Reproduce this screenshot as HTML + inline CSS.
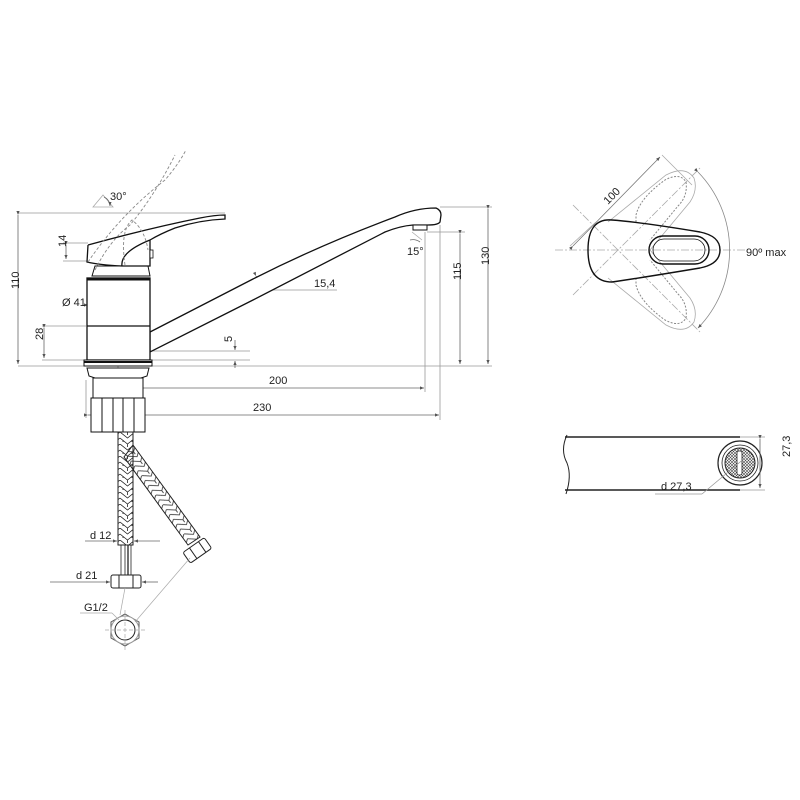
<!DOCTYPE html>
<html><head><meta charset="utf-8"><style>
html,body{margin:0;padding:0;background:#fff}
svg{display:block}
text{font-family:"Liberation Sans",sans-serif;font-size:11px;fill:#222}
</style></head><body>
<svg width="800" height="800" viewBox="0 0 800 800" xmlns="http://www.w3.org/2000/svg">
<defs>
<marker id="a" markerWidth="6" markerHeight="6" refX="5" refY="3" orient="auto"><path d="M0,1 L5,3 L0,5" fill="#555"/></marker>
<pattern id="h" width="3" height="3" patternUnits="userSpaceOnUse"><path d="M0,0 L3,3 M3,0 L0,3" stroke="#444" stroke-width="0.6"/></pattern>
<pattern id="br" width="15" height="12" patternUnits="userSpaceOnUse"><path d="M0,0 L7.5,6 L15,0 M0,6 L7.5,12 L15,6 M7.5,0 L7.5,3 M3,8 L3,10 M12,8 L12,10" stroke="#222" stroke-width="0.8" fill="none"/></pattern>
<pattern id="br2" width="15" height="12" patternUnits="userSpaceOnUse" patternTransform="rotate(-36)"><path d="M0,0 L7.5,6 L15,0 M0,6 L7.5,12 L15,6 M7.5,0 L7.5,3" stroke="#222" stroke-width="0.8" fill="none"/></pattern>
</defs>
<g stroke="#999" stroke-width="0.8" fill="none">
<line x1="18" y1="213" x2="225" y2="213"/>
<line x1="18" y1="366" x2="492" y2="366"/>
<line x1="440" y1="207" x2="492" y2="207"/>
<line x1="427" y1="232" x2="465" y2="232"/>
<line x1="425" y1="232" x2="425" y2="392"/>
<line x1="440" y1="225" x2="440" y2="420"/>
<line x1="42" y1="326" x2="86" y2="326"/>
<line x1="42" y1="360" x2="86" y2="360"/>
<line x1="150" y1="351" x2="250" y2="351"/>
<line x1="150" y1="360" x2="250" y2="360"/>
<line x1="63" y1="243" x2="88" y2="243"/>
<line x1="63" y1="261" x2="88" y2="261"/>
<line x1="262" y1="290" x2="337" y2="290"/>
<line x1="118" y1="360" x2="118" y2="388"/>
<line x1="86" y1="380" x2="86" y2="418"/>
</g>
<g stroke="#666" stroke-width="0.8" fill="none">
<line x1="18" y1="215" x2="18" y2="364" marker-start="url(#a)" marker-end="url(#a)"/>
<line x1="460" y1="234" x2="460" y2="364" marker-start="url(#a)" marker-end="url(#a)"/>
<line x1="488" y1="209" x2="488" y2="364" marker-start="url(#a)" marker-end="url(#a)"/>
<line x1="120" y1="388" x2="424" y2="388" marker-end="url(#a)"/>
<line x1="88" y1="415" x2="439" y2="415" marker-start="url(#a)" marker-end="url(#a)"/>
<line x1="88" y1="305" x2="149" y2="305" marker-start="url(#a)" marker-end="url(#a)"/>
<line x1="44" y1="328" x2="44" y2="358" marker-start="url(#a)" marker-end="url(#a)"/>
<line x1="66" y1="245" x2="66" y2="259" marker-start="url(#a)" marker-end="url(#a)"/>
<line x1="235" y1="340" x2="235" y2="350" marker-end="url(#a)"/>
<line x1="235" y1="368" x2="235" y2="361" marker-end="url(#a)"/>
<line x1="256" y1="276" x2="262" y2="289" marker-start="url(#a)" marker-end="url(#a)"/>
<line x1="85" y1="541" x2="117" y2="541" marker-end="url(#a)"/>
<line x1="160" y1="541" x2="134" y2="541" marker-end="url(#a)"/>
<line x1="50" y1="582" x2="110" y2="582" marker-end="url(#a)"/>
<line x1="158" y1="582" x2="142" y2="582" marker-end="url(#a)"/>
<path d="M93,207 L103,195 L113,207 Z" stroke="#aaa"/>
<path d="M104,197 A10,10 0 0 1 110,206" marker-end="url(#a)"/>
<path d="M412,232 L422,240" stroke="#aaa"/>
<path d="M410,240 A12,12 0 0 1 420,242"/>
</g>
<g stroke="#111" stroke-width="1.3" fill="#fff">
<path d="M150,332 L253,279 Q320,245 395,217 Q415,208 436,208 Q441,210 441,215 L440,222 Q438,225 428,225 L413,225 Q400,226 385,232 L253,300 L150,352 Z"/>
<rect x="413" y="225" width="14" height="5" stroke-width="1"/>
<rect x="87" y="278" width="63" height="82"/>
<line x1="87" y1="326" x2="150" y2="326"/>
<line x1="87" y1="279" x2="150" y2="279" stroke-width="3"/>
<rect x="84" y="360" width="68" height="6" stroke-width="1"/>
<line x1="84" y1="362" x2="152" y2="362" stroke-width="2"/>
<path d="M87,368 L149,368 L147,376 L141,378 L95,378 L89,376 Z" stroke-width="1"/>
<rect x="93" y="378" width="50" height="20" stroke-width="1"/>
<rect x="91" y="398" width="54" height="34" stroke-width="1"/>
<line x1="102" y1="398" x2="102" y2="432" stroke-width="1"/>
<line x1="113" y1="398" x2="113" y2="432" stroke-width="1"/>
<line x1="123" y1="398" x2="123" y2="432" stroke-width="1"/>
<line x1="134" y1="398" x2="134" y2="432" stroke-width="1"/>
<path d="M92,276 L95,266 L148,266 L150,276 Z" stroke-width="1"/>
<path d="M88,245 Q150,228 200,218 Q215,215 225,215 L225,219 Q200,220 175,228 Q160,234 150,240 L150,266 L122,266 Q120,252 150,240 M88,245 L87,262 Q100,265 122,266" />
<rect x="150" y="250" width="3" height="8" stroke-width="0.8"/>
</g>
<g stroke="#888" stroke-width="0.9" fill="none" stroke-dasharray="3,2">
<path d="M88,262 Q120,215 165,180 Q178,165 186,150"/>
<path d="M95,270 Q110,240 130,225 Q155,195 175,155"/>
<path d="M125,265 Q120,230 132,220 Q145,230 148,250"/>
</g>
<!-- hoses -->
<g stroke="#222" stroke-width="1">
<path d="M133,445 L200,537 L188,545 L124,457 Z" fill="url(#br2)"/>
<rect x="118" y="432" width="15" height="113" fill="url(#br)"/>
<g fill="none">
<line x1="121" y1="545" x2="121" y2="575" stroke-width="0.8"/>
<line x1="125" y1="545" x2="125" y2="575" stroke-width="0.8"/>
<line x1="128" y1="545" x2="128" y2="575" stroke-width="1.3"/>
<line x1="131" y1="545" x2="131" y2="575" stroke-width="0.8"/>
</g>
<g fill="#fff">
<rect x="111" y="575" width="30" height="13" rx="2"/>
<line x1="119" y1="575" x2="119" y2="588"/>
<line x1="133" y1="575" x2="133" y2="588"/>
<g transform="translate(197,550) rotate(-35)">
<rect x="-13" y="-6" width="26" height="13" rx="2"/>
<line x1="-5" y1="-6" x2="-5" y2="7"/>
<line x1="6" y1="-6" x2="6" y2="7"/>
</g>
<polygon points="125,614 139,622 139,638 125,646 111,638 111,622" stroke="#555"/>
<circle cx="125" cy="630" r="14" stroke="#999"/>
<circle cx="125" cy="630" r="10"/>
</g>
</g>
<g stroke="#aaa" stroke-width="0.7" fill="none">
<line x1="125" y1="588" x2="120" y2="615"/>
<line x1="190" y1="558" x2="135" y2="622"/>
<line x1="80" y1="613" x2="112" y2="613"/>
<line x1="112" y1="613" x2="119" y2="620"/>
<line x1="105" y1="630" x2="145" y2="630" stroke-dasharray="4,2"/>
<line x1="125" y1="610" x2="125" y2="650" stroke-dasharray="4,2"/>
</g>
<!-- top view -->
<g stroke="#aaa" stroke-width="0.8" fill="none">
<line x1="555" y1="250" x2="745" y2="250" stroke-dasharray="8,2,2,2"/>
<line x1="573" y1="205" x2="700" y2="332" stroke-dasharray="8,2,2,2"/>
<line x1="573" y1="295" x2="700" y2="168" stroke-dasharray="8,2,2,2"/>
<path d="M698,172 A112,112 0 0 1 698,328" stroke="#888" marker-start="url(#a)" marker-end="url(#a)"/>
<line x1="573" y1="246" x2="660" y2="157" stroke="#777" marker-start="url(#a)" marker-end="url(#a)"/>
<line x1="596" y1="222" x2="570" y2="246"/>
<line x1="662" y1="155" x2="692" y2="185"/>
<path d="M608,222 L666,175 Q685,165 694,178 Q698,190 690,202 L650,250 L690,298 Q698,310 694,322 Q685,335 666,325 L608,278"/>
</g>
<g stroke="#888" stroke-width="1" fill="none" stroke-dasharray="2,1.5">
<path d="M636,222 L636,215 Q640,198 665,180 Q680,172 686,182 Q688,196 678,206 L650,240"/>
<path d="M636,278 L636,285 Q640,302 665,320 Q680,328 686,318 Q688,304 678,294 L650,260"/>
</g>
<g stroke="#111" stroke-width="1.4" fill="none">
<path d="M612,220 Q640,222 700,232 Q720,236 720,250 Q720,264 700,268 Q640,278 612,282 Q588,282 588,250 Q588,218 612,220 Z"/>
<rect x="649" y="236" width="60" height="28" rx="14"/>
<rect x="653" y="239" width="52" height="22" rx="11" stroke-width="0.8"/>
</g>
<!-- side section -->
<g stroke="#222" fill="none">
<line x1="565" y1="437" x2="740" y2="437" stroke-width="1.4"/>
<line x1="565" y1="490" x2="740" y2="490" stroke-width="1.4"/>
<path d="M567,435 Q560,450 567,463 Q572,476 566,494" stroke-width="1"/>
<circle cx="740" cy="463" r="22" fill="#fff" stroke-width="1.2"/>
<circle cx="740" cy="463" r="18" stroke-width="0.8"/>
<circle cx="740" cy="463" r="15" fill="url(#h)" stroke-width="1"/>
<rect x="737" y="451" width="5" height="24" rx="2" fill="#fff" stroke-width="0.8"/>
</g>
<g stroke="#999" stroke-width="0.8" fill="none">
<line x1="740" y1="437" x2="765" y2="437"/>
<line x1="740" y1="490" x2="765" y2="490"/>
<line x1="760" y1="439" x2="760" y2="488" stroke="#666" marker-start="url(#a)" marker-end="url(#a)"/>
<line x1="655" y1="494" x2="702" y2="494"/>
<line x1="702" y1="494" x2="752" y2="452"/>
</g>
<text x="110" y="200">30°</text>
<text x="66" y="257" transform="rotate(-90 61 252)">14</text>
<text x="15" y="295" font-size="12" transform="rotate(-90 14 290)">110</text>
<text x="62" y="306" font-size="12">Ø 41</text>
<text x="41" y="348" transform="rotate(-90 38 343)">28</text>
<text x="234" y="352" transform="rotate(-90 228 348)">5</text>
<text x="314" y="287">15,4</text>
<text x="407" y="255">15°</text>
<text x="466" y="295" font-size="12" transform="rotate(-90 456 290)">115</text>
<text x="494" y="280" font-size="12" transform="rotate(-90 484 275)">130</text>
<text x="269" y="384" font-size="12">200</text>
<text x="253" y="411" font-size="12">230</text>
<text x="90" y="539" font-size="10">d 12</text>
<text x="76" y="579" font-size="10">d 21</text>
<text x="84" y="611" font-size="10">G1/2</text>
<text x="600" y="200" font-size="11" transform="rotate(-45 610 193)">100</text>
<text x="746" y="256">90º max</text>
<text x="786" y="473" font-size="10" transform="rotate(-90 780 463)">27,3</text>
<text x="661" y="490" font-size="10">d 27,3</text>
</svg>
</body></html>
